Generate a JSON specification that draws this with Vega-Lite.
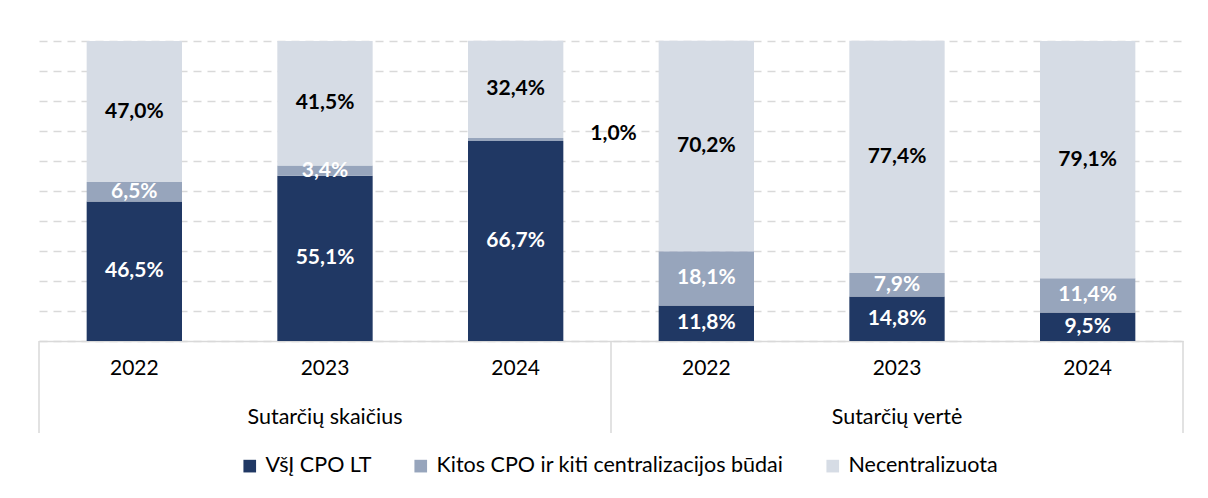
{
  "$schema": "https://vega.github.io/schema/vega-lite/v6.json",
  "width": 1144,
  "height": 300,
  "padding": {"left": 38, "top": 40, "right": 5, "bottom": 5},
  "background": "white",
  "config": {
    "font": "Lato",
    "view": {"stroke": null},
    "axisY": {
      "title": null,
      "labels": false,
      "ticks": false,
      "domain": false,
      "grid": true,
      "tickCount": 10,
      "gridColor": "#D9D9D9",
      "gridDash": [8, 6],
      "gridWidth": 1.5
    },
    "locale": {"number": {"decimal": ",", "thousands": " ", "grouping": [3], "currency": ["", " €"]}}
  },
  "datasets": {
    "bars": [
      {"grupe": "Sutarčių skaičius", "metai": "2022", "key": "Sutarčių skaičius|2022", "serija": "VšĮ CPO LT", "eile": 1, "reiksme": 0.465},
      {"grupe": "Sutarčių skaičius", "metai": "2022", "key": "Sutarčių skaičius|2022", "serija": "Kitos CPO ir kiti centralizacijos būdai", "eile": 2, "reiksme": 0.065},
      {"grupe": "Sutarčių skaičius", "metai": "2022", "key": "Sutarčių skaičius|2022", "serija": "Necentralizuota", "eile": 3, "reiksme": 0.470},
      {"grupe": "Sutarčių skaičius", "metai": "2023", "key": "Sutarčių skaičius|2023", "serija": "VšĮ CPO LT", "eile": 1, "reiksme": 0.551},
      {"grupe": "Sutarčių skaičius", "metai": "2023", "key": "Sutarčių skaičius|2023", "serija": "Kitos CPO ir kiti centralizacijos būdai", "eile": 2, "reiksme": 0.034},
      {"grupe": "Sutarčių skaičius", "metai": "2023", "key": "Sutarčių skaičius|2023", "serija": "Necentralizuota", "eile": 3, "reiksme": 0.415},
      {"grupe": "Sutarčių skaičius", "metai": "2024", "key": "Sutarčių skaičius|2024", "serija": "VšĮ CPO LT", "eile": 1, "reiksme": 0.667},
      {"grupe": "Sutarčių skaičius", "metai": "2024", "key": "Sutarčių skaičius|2024", "serija": "Kitos CPO ir kiti centralizacijos būdai", "eile": 2, "reiksme": 0.010},
      {"grupe": "Sutarčių skaičius", "metai": "2024", "key": "Sutarčių skaičius|2024", "serija": "Necentralizuota", "eile": 3, "reiksme": 0.324},
      {"grupe": "Sutarčių vertė", "metai": "2022", "key": "Sutarčių vertė|2022", "serija": "VšĮ CPO LT", "eile": 1, "reiksme": 0.118},
      {"grupe": "Sutarčių vertė", "metai": "2022", "key": "Sutarčių vertė|2022", "serija": "Kitos CPO ir kiti centralizacijos būdai", "eile": 2, "reiksme": 0.181},
      {"grupe": "Sutarčių vertė", "metai": "2022", "key": "Sutarčių vertė|2022", "serija": "Necentralizuota", "eile": 3, "reiksme": 0.702},
      {"grupe": "Sutarčių vertė", "metai": "2023", "key": "Sutarčių vertė|2023", "serija": "VšĮ CPO LT", "eile": 1, "reiksme": 0.148},
      {"grupe": "Sutarčių vertė", "metai": "2023", "key": "Sutarčių vertė|2023", "serija": "Kitos CPO ir kiti centralizacijos būdai", "eile": 2, "reiksme": 0.079},
      {"grupe": "Sutarčių vertė", "metai": "2023", "key": "Sutarčių vertė|2023", "serija": "Necentralizuota", "eile": 3, "reiksme": 0.774},
      {"grupe": "Sutarčių vertė", "metai": "2024", "key": "Sutarčių vertė|2024", "serija": "VšĮ CPO LT", "eile": 1, "reiksme": 0.095},
      {"grupe": "Sutarčių vertė", "metai": "2024", "key": "Sutarčių vertė|2024", "serija": "Kitos CPO ir kiti centralizacijos būdai", "eile": 2, "reiksme": 0.114},
      {"grupe": "Sutarčių vertė", "metai": "2024", "key": "Sutarčių vertė|2024", "serija": "Necentralizuota", "eile": 3, "reiksme": 0.791}
    ],
    "groups": [
      {"key": "Sutarčių skaičius|2023", "grupe": "Sutarčių skaičius", "lygis": -0.256},
      {"key": "Sutarčių vertė|2023", "grupe": "Sutarčių vertė", "lygis": -0.256}
    ],
    "separators": [
      {"key": "Sutarčių skaičius|2022", "krastas": "pradzia", "nuo": 0, "iki": -0.307},
      {"key": "Sutarčių vertė|2022", "krastas": "pradzia", "nuo": 0, "iki": -0.307},
      {"key": "Sutarčių vertė|2024", "krastas": "pabaiga", "nuo": 0, "iki": -0.307}
    ]
  },
  "encoding": {
    "x": {
      "field": "key",
      "type": "nominal",
      "sort": null,
      "scale": {"paddingInner": 0.5, "paddingOuter": 0.25, "domain": ["Sutarčių skaičius|2022", "Sutarčių skaičius|2023", "Sutarčių skaičius|2024", "Sutarčių vertė|2022", "Sutarčių vertė|2023", "Sutarčių vertė|2024"]},
      "axis": {
        "title": null,
        "labelExpr": "split(datum.value, '|')[1]",
        "labelAngle": 0,
        "labelFont": "Lato",
        "labelFontSize": 21,
        "labelColor": "#000000",
        "labelPadding": 16,
        "ticks": false,
        "domainColor": "#D9D9D9",
        "domainWidth": 1.5,
        "grid": false
      }
    }
  },
  "layer": [
    {
      "data": {"name": "bars"},
      "mark": {"type": "bar"},
      "encoding": {
        "y": {
          "field": "reiksme",
          "type": "quantitative",
          "stack": "zero",
          "scale": {"domain": [0, 1], "nice": false, "zero": true}
        },
        "color": {
          "field": "serija",
          "type": "nominal",
          "scale": {
            "domain": ["VšĮ CPO LT", "Kitos CPO ir kiti centralizacijos būdai", "Necentralizuota"],
            "range": ["#203864", "#97A5BC", "#D6DCE5"]
          },
          "legend": {
            "title": null,
            "orient": "none",
            "direction": "horizontal",
            "legendX": 200,
            "legendY": 414,
            "symbolType": "square",
            "symbolSize": 160,
            "symbolStrokeWidth": 0,
            "labelFont": "Lato",
            "labelFontSize": 21.5,
            "labelColor": "#000000",
            "labelOffset": 5,
            "columnPadding": 38,
            "labelLimit": 600
          }
        },
        "order": {"field": "eile", "type": "quantitative"}
      }
    },
    {
      "data": {"name": "bars"},
      "mark": {"type": "text", "font": "Lato", "fontSize": 21, "fontWeight": "bold", "baseline": "middle", "align": "center"},
      "encoding": {
        "y": {"field": "reiksme", "type": "quantitative", "stack": "zero", "bandPosition": 0.5},
        "detail": {"field": "serija", "type": "nominal"},
        "order": {"field": "eile", "type": "quantitative"},
        "text": {"field": "reiksme", "type": "quantitative", "format": ".1%"},
        "color": {"condition": {"test": "datum.serija === 'Necentralizuota'", "value": "#000000"}, "value": "#FFFFFF"},
        "opacity": {"condition": {"test": "datum.key === 'Sutarčių skaičius|2024' && datum.eile === 2", "value": 0}, "value": 1}
      }
    },
    {
      "data": {"name": "bars"},
      "mark": {"type": "text", "font": "Lato", "fontSize": 21, "fontWeight": "bold", "baseline": "middle", "align": "left", "dx": 27, "dy": -5},
      "encoding": {
        "x": {"field": "key", "type": "nominal", "bandPosition": 1},
        "y": {"field": "reiksme", "type": "quantitative", "stack": "zero", "bandPosition": 0.5},
        "detail": {"field": "serija", "type": "nominal"},
        "order": {"field": "eile", "type": "quantitative"},
        "text": {"field": "reiksme", "type": "quantitative", "format": ".1%"},
        "color": {"value": "#000000"},
        "opacity": {"condition": {"test": "datum.key === 'Sutarčių skaičius|2024' && datum.eile === 2", "value": 1}, "value": 0}
      }
    },
    {
      "data": {"name": "groups"},
      "mark": {"type": "text", "font": "Lato", "fontSize": 21.5, "color": "#000000", "baseline": "middle", "align": "center"},
      "encoding": {
        "y": {"field": "lygis", "type": "quantitative"},
        "text": {"field": "grupe"}
      }
    },
    {
      "data": {"name": "separators"},
      "transform": [{"filter": "datum.krastas === 'pradzia'"}],
      "mark": {"type": "rule", "color": "#D9D9D9", "strokeWidth": 1.5},
      "encoding": {
        "x": {"field": "key", "type": "nominal", "bandPosition": -0.5},
        "y": {"field": "nuo", "type": "quantitative"},
        "y2": {"field": "iki"}
      }
    },
    {
      "data": {"name": "separators"},
      "transform": [{"filter": "datum.krastas === 'pabaiga'"}],
      "mark": {"type": "rule", "color": "#D9D9D9", "strokeWidth": 1.5},
      "encoding": {
        "x": {"field": "key", "type": "nominal", "bandPosition": 1.5},
        "y": {"field": "nuo", "type": "quantitative"},
        "y2": {"field": "iki"}
      }
    }
  ]
}
